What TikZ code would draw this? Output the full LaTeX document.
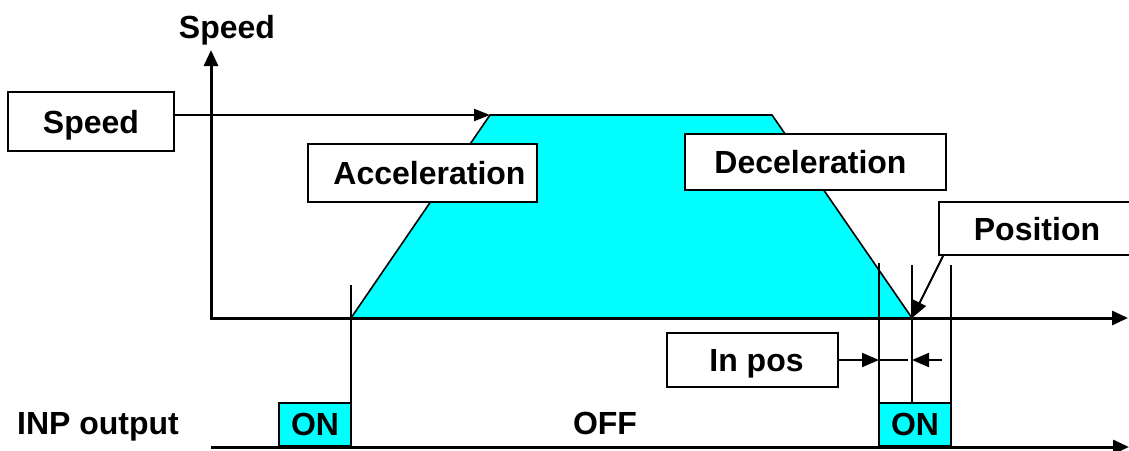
\documentclass[tikz,border=0pt]{standalone}
\usepackage{fontspec}
\setmainfont{Liberation Sans}
\usetikzlibrary{arrows.meta}
\definecolor{cyanfill}{RGB}{0,255,255}
\begin{document}
\begin{tikzpicture}[x=1pt,y=-1pt,
  font=\fontsize{32}{32}\selectfont\bfseries,
  every node/.append style={text depth=0pt},
  labelbox/.style={draw,line width=1.8pt,fill=white,inner sep=0pt},
  onbox/.style={draw,line width=1.8pt,fill=cyanfill,inner sep=0pt,minimum width=72pt,minimum height=43pt},
  axis/.style={line width=3pt,-{Triangle[length=16pt,width=14pt]}},
  thinarrow/.style={line width=2pt,-{Triangle[length=17pt,width=14pt]}},
  guide/.style={line width=2pt}]
\useasboundingbox (0,0) rectangle (1129,450);
\clip (0,0) rectangle (1129,450);
% trapezoid
\coordinate (p0) at (351,318);
\coordinate (p1) at (490,115);
\coordinate (p2) at (772,115);
\coordinate (p3) at (912,318);
\fill[cyanfill] (p0) -- (p1) -- (p2) -- (p3) -- cycle;
\draw[line width=1.6pt] (p0) -- (p1) -- (p2) -- (p3);
% axes
\coordinate (origin) at (211,319.5);
\coordinate (ytip) at (211,50);
\coordinate (xorig) at (209.5,318);
\coordinate (xtip) at (1128,318);
\draw[axis] (origin) -- (ytip);
\draw[axis] (xorig) -- (xtip);
\coordinate (borig) at (211,447);
\coordinate (btip) at (1129,447);
\draw[axis] (borig) -- (btip);
\node (speedlabel) at (227,27) {Speed};
% guide lines
\coordinate (g1a) at (879,263);
\coordinate (g1b) at (879,404);
\coordinate (g2a) at (912,265);
\coordinate (g2b) at (912,404);
\coordinate (g3a) at (951,265);
\coordinate (g3b) at (951,404);
\coordinate (g0a) at (351,285);
\coordinate (g0b) at (351,404);
\draw[guide] (g1a) -- (g1b);
\draw[guide] (g2a) -- (g2b);
\draw[guide] (g3a) -- (g3b);
\draw[guide] (g0a) -- (g0b);
% boxes
\node[labelbox,minimum width=166pt,minimum height=59pt] (speedbox) at (91,121.5) {Speed};
\node[labelbox,minimum width=229pt,minimum height=58pt] (accbox) at (422.5,173) {\hspace*{14pt}Acceleration};
\node[labelbox,minimum width=261pt,minimum height=56pt] (decbox) at (815.5,162) {Deceleration\hspace*{10pt}};
\node[labelbox,minimum width=196pt,minimum height=53pt] (posbox) at (1037,228.5) {Position};
\node[labelbox,minimum width=171pt,minimum height=54pt] (inposbox) at (752.5,360) {\hspace*{8pt}In pos};
\node[onbox] (onleft) at (315,424.5) {ON};
\node[onbox] (onright) at (915,424.5) {ON};
\node (off) at (605,423) {OFF};
\node (inp) at (98,423) {INP output};
% connectors
\draw[line width=2pt,-{Triangle[length=16pt,width=12pt]}] (speedbox.east |- p1) -- (p1);
\coordinate (posfrom) at (943,256);
\draw[thinarrow] (posfrom) -- (p3);
\coordinate (inl) at (879,360);
\coordinate (inm) at (908,360);
\coordinate (inrstart) at (942,360);
\coordinate (inr) at (912,360);
\draw[thinarrow] (inposbox.east) -- (inl);
\draw[line width=1.5pt] (inl) -- (inm);
\draw[thinarrow] (inrstart) -- (inr);
\end{tikzpicture}
\end{document}
